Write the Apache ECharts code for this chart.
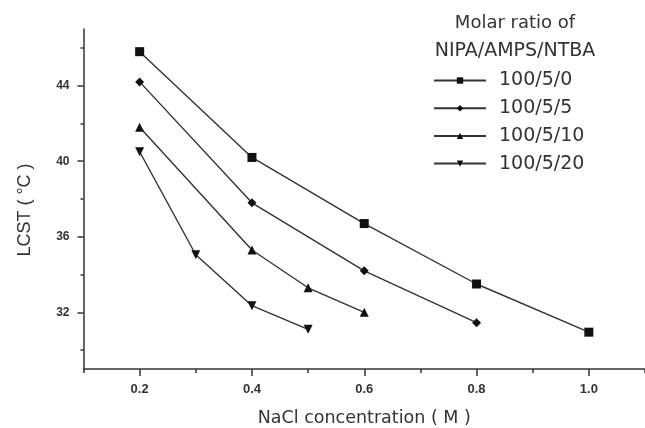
<!DOCTYPE html>
<html>
<head>
<meta charset="utf-8">
<script src="https://cdn.jsdelivr.net/npm/echarts@6/dist/echarts.min.js"></script>
<style>
  html, body { margin: 0; padding: 0; background: #fff; }
  #chart { width: 645px; height: 428px; }
</style>
</head>
<body>
<div id="chart"></div>
<script>
// NaCl concentration (M) for each series
const x0 = [0.2, 0.4, 0.6, 0.8, 1.0];
const x5 = [0.2, 0.4, 0.6, 0.8];
const x10 = [0.2, 0.4, 0.5, 0.6];
const x20 = [0.2, 0.3, 0.4, 0.5];
// LCST (°C)
const lcst0 = [45.8, 40.2, 36.7, 33.5, 30.95];
const lcst5 = [44.2, 37.8, 34.2, 31.45];
const lcst10 = [41.8, 35.3, 33.3, 32.0];
const lcst20 = [40.5, 35.05, 32.35, 31.1];
const seriesNames = ['100/5/0', '100/5/5', '100/5/10', '100/5/20'];
const xLabels = [0.2, 0.4, 0.6, 0.8, 1.0];
const xMinor = [0.1, 0.3, 0.5, 0.7, 0.9, 1.1];
const yLabels = [32, 36, 40, 44];
const yMinor = [30, 34, 38, 42, 46];

const font = 'Liberation Sans, Arial, sans-serif';
const wide = 'DejaVu Sans, sans-serif';
const lineColor = '#333';
const markColor = '#111';

function pairs(xs, ys) {
  return xs.map((x, i) => [x, ys[i]]);
}

function lineSeries(name, data, symbol, rotate) {
  return {
    name: name,
    type: 'line',
    data: data,
    symbol: symbol,
    symbolSize: 9,
    symbolRotate: rotate || 0,
    itemStyle: { color: markColor },
    lineStyle: { color: lineColor, width: 1.4 },
    emphasis: { disabled: true }
  };
}

const chart = echarts.init(document.getElementById('chart'));
const option = {
  animation: false,
  textStyle: { fontFamily: font },
  title: {
    text: '{a|Molar ratio of}\n{b|NIPA/AMPS/NTBA}',
    left: 510,
    top: 4,
    textAlign: 'center',
    textStyle: {
      fontFamily: wide, fontSize: 18, fontWeight: 'normal', color: '#333', lineHeight: 28,
      rich: {
        a: { fontFamily: wide, fontSize: 18, color: '#333', lineHeight: 28 },
        b: { fontFamily: wide, fontSize: 19, color: '#333', lineHeight: 28 }
      }
    }
  },
  legend: {
    data: seriesNames,
    orient: 'vertical',
    left: 428,
    top: 66,
    itemWidth: 52,
    itemHeight: 8,
    itemGap: 8.7,
    textStyle: { fontFamily: wide, fontSize: 19, color: '#333', lineHeight: 18, padding: [0, 0, 0, 8] }
  },
  grid: { left: 83.5, right: 0, top: 29, bottom: 59, outerBoundsMode: 'none', containLabel: false },
  xAxis: [
    {
      type: 'value',
      min: 0.1,
      max: 1.1,
      name: 'NaCl concentration ( M )',
      nameLocation: 'middle',
      nameGap: 40,
      nameTextStyle: { fontFamily: wide, fontSize: 17.5, color: '#333' },
      axisLine: { show: true, lineStyle: { color: '#333', width: 1.5 } },
      axisTick: { show: true, length: 7, customValues: xLabels, lineStyle: { color: '#333', width: 1.5 } },
      axisLabel: { customValues: xLabels, margin: 14, fontSize: 13, fontWeight: 'bold', color: '#333',
        formatter: v => v.toFixed(1) },
      splitLine: { show: false }
    },
    {
      type: 'value',
      min: 0.1,
      max: 1.1,
      position: 'bottom',
      axisLine: { show: false },
      axisTick: { show: true, length: 4, customValues: xMinor, lineStyle: { color: '#333', width: 1.5 } },
      axisLabel: { show: false },
      splitLine: { show: false }
    }
  ],
  yAxis: [
    {
      type: 'value',
      min: 29,
      max: 47,
      name: 'LCST ( °C )',
      nameLocation: 'middle',
      nameGap: 49,
      nameTextStyle: { fontFamily: font, fontSize: 18, color: '#333', padding: [0, 22, 0, 0] },
      axisLine: { show: true, lineStyle: { color: '#333', width: 1.5 } },
      axisTick: { show: true, length: 6, customValues: yLabels, lineStyle: { color: '#333', width: 1.5 } },
      axisLabel: { customValues: yLabels, margin: 14, fontSize: 12, fontWeight: 'bold', color: '#333' },
      splitLine: { show: false }
    },
    {
      type: 'value',
      min: 29,
      max: 47,
      position: 'left',
      axisLine: { show: false },
      axisTick: { show: true, length: 3, customValues: yMinor, lineStyle: { color: '#333', width: 1.5 } },
      axisLabel: { show: false },
      splitLine: { show: false }
    }
  ],
  series: [
    lineSeries(seriesNames[0], pairs(x0, lcst0), 'rect'),
    lineSeries(seriesNames[1], pairs(x5, lcst5), 'diamond'),
    lineSeries(seriesNames[2], pairs(x10, lcst10), 'triangle'),
    lineSeries(seriesNames[3], pairs(x20, lcst20), 'triangle', 180)
  ]
};
chart.setOption(option);
</script>
</body>
</html>
